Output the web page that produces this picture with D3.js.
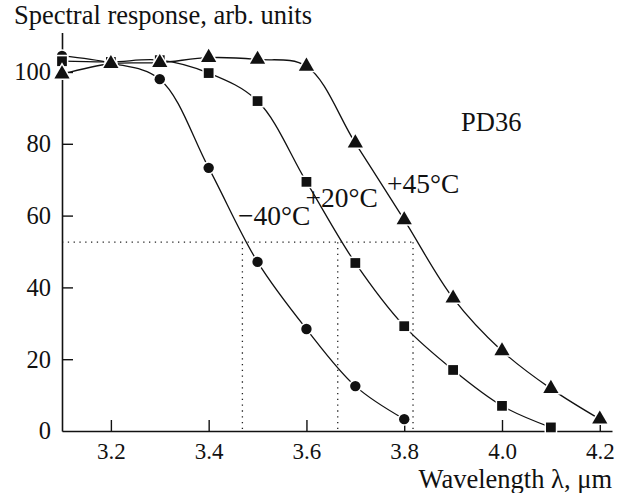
<!DOCTYPE html>
<html><head><meta charset="utf-8">
<script src="https://cdn.jsdelivr.net/npm/d3@7"></script>
<style>body{margin:0;background:#fff}svg{display:block}text{font-family:"Liberation Serif","Times New Roman",serif;fill:#111}</style>
</head><body><svg id="c" width="619" height="493"></svg>
<script>
const wavelengths = [3.1,3.2,3.3,3.4,3.5,3.6,3.7,3.8,3.9,4.0,4.1,4.2];
const seriesMinus40 = [104.5,102.5,98,73.3,47.1,28.4,12.5,3.3];
const seriesPlus20 = [103,102.8,103.3,99.7,91.9,69.4,46.8,29.2,17,7,1];
const seriesPlus45 = [99.4,102.3,102.6,104,103.5,101.6,80.2,58.8,37,22.3,11.8,3.3];
const seriesLabels = ["\u221240\u00b0C","+20\u00b0C","+45\u00b0C"];
const xTicks = [3.2,3.4,3.6,3.8,4.0,4.2];
const yTicks = [0,20,40,60,80,100];
const cutLevel = 52.6;
const cutWavelengths = [3.469,3.664,3.818];
const labelPos = [[3.46,57.4],[3.598,62.4],[3.765,66.3]];

const svg = d3.select("#c");
const x = d3.scaleLinear().domain([3.1,4.225]).range([62,612]);
const y = d3.scaleLinear().domain([0,111]).range([431,32.5]);
const fsY = 24.5, fsX = 23, fsL = 26.5, fsS = 27.5;

// dotted guide lines
const g = svg.append("g").attr("stroke","#222").attr("stroke-width",1.3).attr("stroke-dasharray","1.3,4.5");
g.append("line").attr("x1",x(3.1)).attr("x2",x(d3.max(cutWavelengths))).attr("y1",y(cutLevel)).attr("y2",y(cutLevel));
cutWavelengths.forEach(w=>{
  g.append("line").attr("x1",x(w)).attr("x2",x(w)).attr("y1",y(cutLevel)).attr("y2",y(0));
});

// axes
const xAxis = d3.axisBottom(x).tickValues(xTicks).tickSizeInner(-11).tickSizeOuter(0).tickPadding(12).tickFormat(d3.format(".1f"));
const yAxis = d3.axisLeft(y).tickValues(yTicks).tickSizeInner(-11).tickSizeOuter(0).tickPadding(11).tickFormat(d3.format("d"));
const gx = svg.append("g").attr("transform",`translate(0,${y(0)})`).call(xAxis);
const gy = svg.append("g").attr("transform",`translate(${x(3.1)},0)`).call(yAxis);
[gx,gy].forEach((a,i)=>{
  a.select(".domain").attr("stroke","#111").attr("stroke-width",1.6);
  a.selectAll(".tick line").attr("stroke","#111").attr("stroke-width",1.4);
  a.selectAll(".tick text").attr("font-size",i===0?fsX:fsY).attr("font-family","Liberation Serif").attr("fill","#111");
});
gy.selectAll(".tick").filter(d=>d===0).select("line").remove();

// series
const series = [
  {vals:seriesMinus40, sym:d3.symbolCircle, size:85},
  {vals:seriesPlus20, sym:d3.symbolSquare, size:95},
  {vals:seriesPlus45, sym:d3.symbolTriangle, size:100}
];
const line = d3.line().x(d=>x(d[0])).y(d=>y(d[1])).curve(d3.curveCatmullRom.alpha(0.5));
series.forEach(s=>{
  const pts = s.vals.map((v,i)=>[wavelengths[i],v]);
  svg.append("path").datum(pts).attr("d",line).attr("fill","none").attr("stroke","#111").attr("stroke-width",1.3);
});
series.forEach(s=>{
  const pts = s.vals.map((v,i)=>[wavelengths[i],v]);
  svg.append("g").selectAll("path").data(pts).join("path")
    .attr("d",d3.symbol().type(s.sym).size(s.size))
    .attr("transform",d=>`translate(${x(d[0])},${y(d[1])})`)
    .attr("fill","#111").attr("stroke","#fff").attr("stroke-width",3).attr("paint-order","stroke");
});

// labels
seriesLabels.forEach((t,i)=>{
  svg.append("text").attr("x",x(labelPos[i][0])).attr("y",y(labelPos[i][1])).attr("font-size",fsS).text(t);
});
svg.append("text").attr("x",461).attr("y",131).attr("font-size",fsL).text("PD36");
svg.append("text").attr("x",14).attr("y",24).attr("font-size",fsL).text("Spectral response, arb. units");
svg.append("text").attr("x",612).attr("y",487.5).attr("text-anchor","end").attr("font-size",fsL).text("Wavelength \u03bb, \u03bcm");
</script></body></html>
